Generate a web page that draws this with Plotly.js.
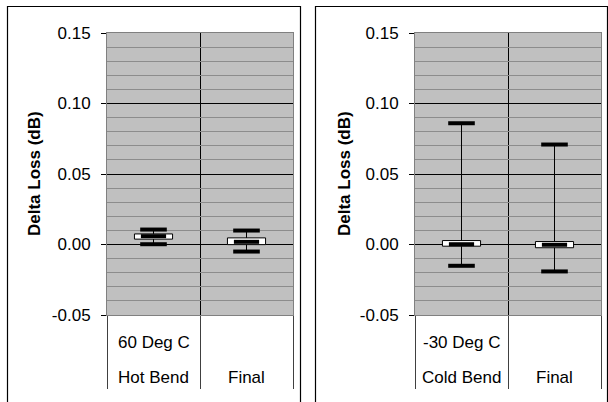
<!DOCTYPE html>
<html>
<head>
<meta charset="utf-8">
<script src="https://cdn.plot.ly/plotly-3.0.1.min.js"></script>
<style>html,body{margin:0;padding:0;background:#fff;}#chart{width:608px;height:402px;}</style>
</head>
<body>
<div id="chart"></div>
<script>
// ---- data ----
const leftCategories = ['Hot Bend', 'Final'];
const leftTopLabels = ['60 Deg C', ''];
const leftMax = [0.0106, 0.0099];
const leftBoxHigh = [0.0075, 0.0047];
const leftMean = [0.0059, 0.0019];
const leftBoxLow = [0.0038, -0.0001];
const leftMin = [0.0002, -0.0050];

const rightCategories = ['Cold Bend', 'Final'];
const rightTopLabels = ['-30 Deg C', ''];
const rightMax = [0.0860, 0.0709];
const rightBoxHigh = [0.0028, 0.0021];
const rightMean = [0.0002, -0.0002];
const rightBoxLow = [-0.0012, -0.0023];
const rightMin = [-0.0151, -0.0191];

const yTickVals = [-0.05, 0.00, 0.05, 0.10, 0.15];
const yTickText = ['-0.05', '0.00', '0.05', '0.10', '0.15'];
const yTitle = 'Delta Loss (dB)';

// ---- build ----
const FONT = '"Liberation Sans", Arial, sans-serif';
const FS = 17;

function panelTraces(cats, mx, hi, mean, lo, mn, xa, ya) {
  const wx = [], wy = [];
  cats.forEach((c, i) => {
    wx.push(c, c, null, c, c, null);
    wy.push(mx[i], hi[i], null, lo[i], mn[i], null);
  });
  const capX = cats.concat(cats);
  const capY = mx.concat(mn);
  return [
    {type: 'bar', x: cats, base: lo, y: hi.map((h, i) => h - lo[i]), width: 0.41,
     marker: {color: '#ffffff', line: {color: '#000000', width: 1}}, xaxis: xa, yaxis: ya, hoverinfo: 'skip'},
    {type: 'scatter', mode: 'lines', x: wx, y: wy, line: {color: '#000000', width: 1},
     xaxis: xa, yaxis: ya, hoverinfo: 'skip', connectgaps: false},
    {type: 'scatter', mode: 'markers', x: capX, y: capY,
     marker: {symbol: 'line-ew', size: 19, color: '#000000', line: {color: '#000000', width: 4}},
     xaxis: xa, yaxis: ya, hoverinfo: 'skip'},
    {type: 'scatter', mode: 'markers', x: cats, y: mean,
     marker: {symbol: 'line-ew', size: 18, color: '#000000', line: {color: '#000000', width: 4}},
     xaxis: xa, yaxis: ya, hoverinfo: 'skip'}
  ];
}

const data = [].concat(
  panelTraces(leftCategories, leftMax, leftBoxHigh, leftMean, leftBoxLow, leftMin, 'x', 'y'),
  panelTraces(rightCategories, rightMax, rightBoxHigh, rightMean, rightBoxLow, rightMin, 'x2', 'y2')
);

const W = 608, H = 402;
const yDom = [1 - 315/H, 1 - 33/H];
const xDomL = [107/W, 293/W];
const xDomR = [415/W, 601/W];

function xAxis(dom, anchor) {
  return {
    domain: dom, anchor: anchor, type: 'category', range: [-0.5, 1.5],
    showgrid: false, zeroline: false, showticklabels: false, ticks: '',
    showline: true, linecolor: '#808080', linewidth: 1, mirror: true,
    minor: {tickvals: [-0.5, 0.5, 1.5], ticks: 'outside', ticklen: 73, tickcolor: '#404040', tickwidth: 1,
            showgrid: true, gridcolor: '#000000', gridwidth: 1}
  };
}
function yAxis(dom, anchor) {
  return {
    domain: dom, anchor: anchor, range: [-0.05, 0.15], tickvals: yTickVals, ticktext: yTickText,
    showgrid: true, gridcolor: '#000000', gridwidth: 1, zeroline: false,
    ticks: 'outside', ticklen: 5, tickcolor: '#000000', tickwidth: 1, ticklabelstandoff: 7,
    showline: true, linecolor: '#808080', linewidth: 1, mirror: true,
    tickfont: {family: FONT, size: FS, color: '#000000'},
    minor: {dtick: 0.01, showgrid: true, gridcolor: '#8c8c8c', gridwidth: 1}
  };
}

const annotations = [];
function labels(cats, tops, xa, titleX) {
  cats.forEach((c, i) => {
    annotations.push({xref: xa, yref: 'paper', x: c, y: 1 - 377/H, text: c, showarrow: false,
      yanchor: 'middle', font: {family: FONT, size: FS, color: '#000000'}});
    if (tops[i]) annotations.push({xref: xa, yref: 'paper', x: c, y: 1 - 342/H, text: tops[i], showarrow: false,
      yanchor: 'middle', font: {family: FONT, size: FS, color: '#000000'}});
  });
  annotations.push({xref: 'paper', yref: 'paper', x: titleX/W, y: (yDom[0] + yDom[1]) / 2, text: '<b>' + yTitle + '</b>',
    textangle: -90, showarrow: false, xanchor: 'center', yanchor: 'middle',
    font: {family: FONT, size: FS, color: '#000000'}});
}
labels(leftCategories, leftTopLabels, 'x', 34);
labels(rightCategories, rightTopLabels, 'x2', 344);

const layout = {
  width: W, height: H, margin: {l: 0, r: 0, t: 0, b: 0},
  paper_bgcolor: '#ffffff', plot_bgcolor: '#c0c0c0', showlegend: false, barmode: 'overlay',
  xaxis: xAxis(xDomL, 'y'), yaxis: yAxis(yDom, 'x'),
  xaxis2: xAxis(xDomR, 'y2'), yaxis2: yAxis(yDom, 'x2'),
  annotations: annotations,
  shapes: [
    {type: 'rect', xref: 'paper', yref: 'paper', x0: 7.5/W, x1: 300.5/W, y0: -0.05, y1: 1 - 6.5/H,
     line: {color: '#000000', width: 1.2}, fillcolor: 'rgba(0,0,0,0)', layer: 'below'},
    {type: 'rect', xref: 'paper', yref: 'paper', x0: 315.5/W, x1: 607.5/W, y0: -0.05, y1: 1 - 6.5/H,
     line: {color: '#000000', width: 1.2}, fillcolor: 'rgba(0,0,0,0)', layer: 'below'}
  ]
};

Plotly.newPlot('chart', data, layout, {displayModeBar: false, staticPlot: true});
</script>
</body>
</html>
